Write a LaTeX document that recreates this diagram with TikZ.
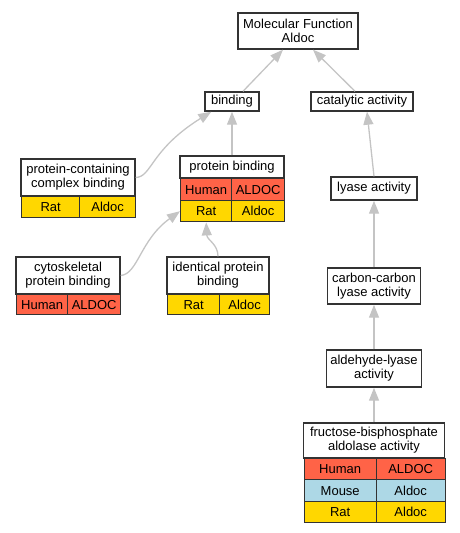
\documentclass[tikz,border=0pt]{standalone}
\usepackage{fontspec}
\setmainfont{Liberation Sans}
\usetikzlibrary{arrows.meta}
\definecolor{human}{HTML}{FF6347}
\definecolor{mouse}{HTML}{ADD8E6}
\definecolor{rat}{HTML}{FFD700}
\definecolor{isagray}{HTML}{C4C4C4}
\tikzset{term/.style={draw=black!80, line width=1.4pt, fill=white, align=center, inner sep=1pt,
                      font=\fontsize{13}{14}\selectfont},
         cell/.style={term, anchor=north west, minimum height=21pt},
         isa/.style={draw=isagray, line width=1.3pt, -{Triangle[length=13pt,width=10pt]}}}

\begin{document}
\begin{tikzpicture}[x=1pt,y=-1pt]
  \useasboundingbox (0,0) rectangle (459,533);
  % top of the graph
  \node[term, minimum width=120pt, minimum height=36pt] (mf) at (298,31) {Molecular Function\\Aldoc};
  \node[term, minimum width=54pt, minimum height=19pt] (bind) at (232,101.5) {binding};
  \node[term, minimum width=102pt, minimum height=19pt] (cat) at (362,101.5) {catalytic activity};
  % binding branch
  \node[term, minimum width=114pt, minimum height=37pt] (pccb) at (78,177.5) {protein-containing\\complex binding};
  \node[cell, fill=rat, minimum width=58pt] (pccbRat) at (21,196) {Rat};
  \node[cell, fill=rat, minimum width=56pt] (pccbGene) at (79,196) {Aldoc};
  \node[term, minimum width=104pt, minimum height=22pt] (pb) at (232,167) {protein binding};
  \node[cell, fill=human, minimum width=51pt, minimum height=22pt] (pbHuman) at (180,178) {Human};
  \node[cell, fill=human, minimum width=53pt, minimum height=22pt] (pbHumanGene) at (231,178) {ALDOC};
  \node[cell, fill=rat, minimum width=51pt] (pbRat) at (180,200) {Rat};
  \node[cell, fill=rat, minimum width=53pt] (pbRatGene) at (231,200) {Aldoc};
  \node[term, minimum width=104pt, minimum height=37pt] (cyto) at (68,275.5) {cytoskeletal\\protein binding};
  \node[cell, fill=human, minimum width=51pt, minimum height=20pt] (cytoHuman) at (16,294) {Human};
  \node[cell, fill=human, minimum width=53pt, minimum height=20pt] (cytoGene) at (67,294) {ALDOC};
  \node[term, minimum width=102pt, minimum height=37pt] (ipb) at (218,275.5) {identical protein\\binding};
  \node[cell, fill=rat, minimum width=52pt, minimum height=20pt] (ipbRat) at (167,294) {Rat};
  \node[cell, fill=rat, minimum width=50pt, minimum height=20pt] (ipbGene) at (219,294) {Aldoc};
  % catalytic branch
  \node[term, minimum width=86pt, minimum height=23pt] (lyase) at (374,188.5) {lyase activity};
  \node[term, minimum width=93pt, minimum height=36pt] (cc) at (374,286) {carbon-carbon\\lyase activity};
  \node[term, minimum width=95pt, minimum height=37pt] (ald) at (374,368.5) {aldehyde-lyase\\activity};
  \node[term, minimum width=141pt, minimum height=35pt] (fba) at (374,440.5) {fructose-bisphosphate\\aldolase activity};
  \node[cell, fill=human, minimum width=72pt] (fbaHuman) at (303.5,458) {Human};
  \node[cell, fill=human, minimum width=69pt] (fbaHumanGene) at (375.5,458) {ALDOC};
  \node[cell, fill=mouse, minimum width=72pt, minimum height=22pt] (fbaMouse) at (303.5,479) {Mouse};
  \node[cell, fill=mouse, minimum width=69pt, minimum height=22pt] (fbaMouseGene) at (375.5,479) {Aldoc};
  \node[cell, fill=rat, minimum width=72pt] (fbaRat) at (303.5,501) {Rat};
  \node[cell, fill=rat, minimum width=69pt] (fbaRatGene) at (375.5,501) {Aldoc};
  % is_a edges
  \draw[isa] ([xshift=11pt]bind.north) -- ([xshift=-15pt]mf.south);
  \draw[isa] ([xshift=-7pt]cat.north) -- ([xshift=15pt]mf.south);
  \draw[isa] (pb.north) -- (bind.south);
  \draw[isa] (pccb.east) .. controls (152,177) and (150,150) .. ([xshift=7pt]bind.south west);
  \draw[isa] (cyto.east) .. controls (138,274) and (140,240) .. (pbRat.west);
  \draw[isa] (ipb.north) .. controls (218,244) and (207,240) .. (pbRat.south);
  \draw[isa] (lyase.north) -- ([xshift=5pt]cat.south);
  \draw[isa] (cc.north) -- (lyase.south);
  \draw[isa] (ald.north) -- (cc.south);
  \draw[isa] (fba.north) -- (ald.south);
\end{tikzpicture}
\end{document}
